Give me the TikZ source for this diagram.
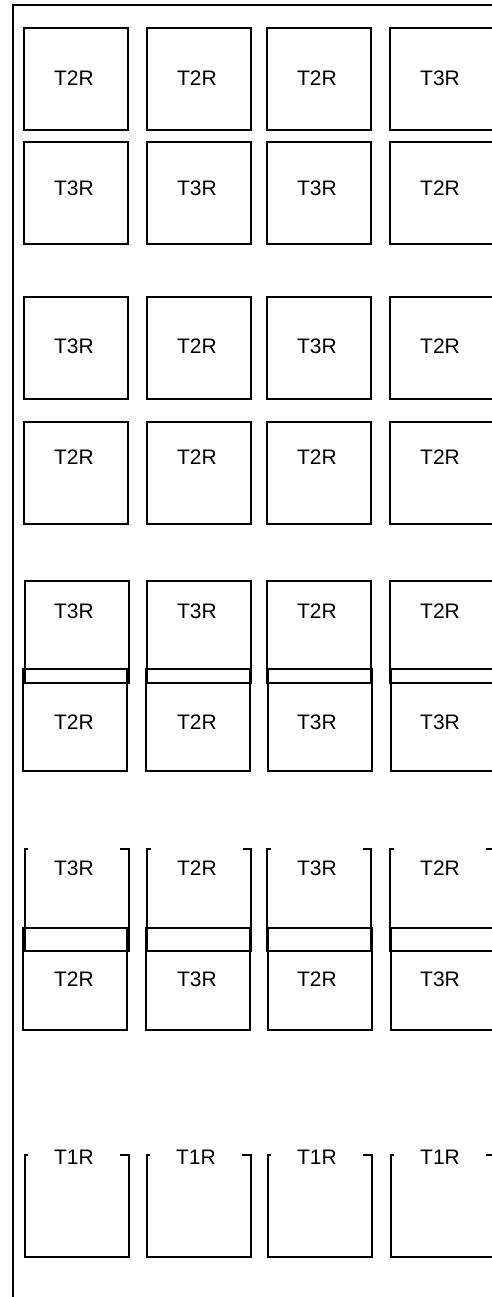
\documentclass[tikz,border=0pt]{standalone}
\usepackage{fontspec}
\setmainfont{Liberation Sans}
\usepackage{tikz}
\usetikzlibrary{positioning}

\tikzset{
  slot/.style={draw, line width=2pt, minimum width=104pt, minimum height=102pt, inner sep=0pt, outer sep=0pt},
  tag/.style={fill=white, minimum width=92pt, minimum height=44pt, inner sep=0pt, font=\fontsize{21}{25}\selectfont}
}

\begin{document}
\begin{tikzpicture}[x=1pt, y=-1pt]
    \useasboundingbox (0,0) rectangle (492,1297);
    % outer frame
    \coordinate (fbot) at (13,1297);
    \coordinate (fcorner) at (13,5);
    \coordinate (fright) at (492,5);
    \draw[line width=2pt] (fbot) -- (fcorner) -- (fright);

    % rows 1 and 2
    \foreach \x/\t [count=\i] in {76/T2R,199/T2R,319/T2R,442/T3R} {
        \node[slot] (r1c\i) at (\x,79) {};
        \node[tag] (l1c\i) at (\x-2,78) {\t};
    }
    \foreach \x/\t [count=\i] in {76/T3R,199/T3R,319/T3R,442/T2R} {
        \node[slot] (r2c\i) at (\x,193) {};
        \node[tag] (l2c\i) at (\x-2,188) {\t};
    }

    % rows 3 and 4
    \foreach \x/\t [count=\i] in {76/T3R,199/T2R,319/T3R,442/T2R} {
        \node[slot] (r3c\i) at (\x,348) {};
        \node[tag] (l3c\i) at (\x-2,346) {\t};
    }
    \foreach \x/\t [count=\i] in {76/T2R,199/T2R,319/T2R,442/T2R} {
        \node[slot] (r4c\i) at (\x,473) {};
        \node[tag] (l4c\i) at (\x-2,457) {\t};
    }

    % rows 5 and 6 (overlapping)
    \foreach \x/\t [count=\i] in {77/T3R,199/T3R,319/T2R,442/T2R} {
        \node[slot] (r5c\i) at (\x,632) {};
    }
    \foreach \x/\t [count=\i] in {75/T2R,198/T2R,320/T3R,443/T3R} {
        \node[slot] (r6c\i) at (\x,720) {};
    }
    \foreach \x/\t [count=\i] in {76/T3R,199/T3R,319/T2R,442/T2R} {
        \node[tag] (l5c\i) at (\x-2,611) {\t};
    }
    \foreach \x/\t [count=\i] in {76/T2R,199/T2R,319/T3R,442/T3R} {
        \node[tag] (l6c\i) at (\x-2,722) {\t};
    }

    % rows 7 and 8 (overlapping)
    \foreach \x [count=\i] in {77,199,319,442} {
        \node[slot] (r7c\i) at (\x,900) {};
    }
    \foreach \x [count=\i] in {75,198,320,443} {
        \node[slot] (r8c\i) at (\x,979) {};
    }
    \foreach \x/\t [count=\i] in {76/T3R,199/T2R,319/T3R,442/T2R} {
        \node[tag] (l7c\i) at (\x-2,868) {\t};
    }
    \foreach \x/\t [count=\i] in {76/T2R,199/T3R,319/T2R,442/T3R} {
        \node[tag] (l8c\i) at (\x-2,979) {\t};
    }

    % row 9
    \foreach \x/\t [count=\i] in {77/T1R,199/T1R,320/T1R,443/T1R} {
        \node[slot] (r9c\i) at (\x,1206) {};
        \node[tag] (l9c\i) at (\x-3,1157) {\t};
    }
\end{tikzpicture}
\end{document}
